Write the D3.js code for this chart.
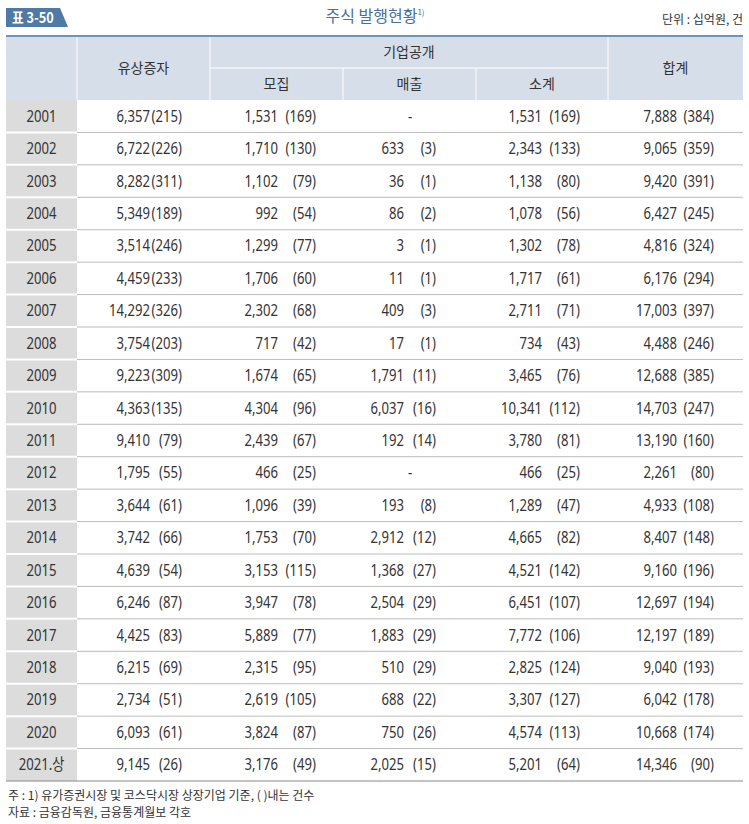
<!DOCTYPE html>
<html><head><meta charset="utf-8">
<script src="https://cdn.jsdelivr.net/npm/d3@7"></script>
<style>body{margin:0;background:#fff}</style>
</head><body>
<svg id="c" width="749" height="824"></svg>
<script>
const years = ["2001","2002","2003","2004","2005","2006","2007","2008","2009","2010","2011","2012","2013","2014","2015","2016","2017","2018","2019","2020","2021.상"];
const rights = [[6357,215],[6722,226],[8282,311],[5349,189],[3514,246],[4459,233],[14292,326],[3754,203],[9223,309],[4363,135],[9410,79],[1795,55],[3644,61],[3742,66],[4639,54],[6246,87],[4425,83],[6215,69],[2734,51],[6093,61],[9145,26]];
const recruit = [[1531,169],[1710,130],[1102,79],[992,54],[1299,77],[1706,60],[2302,68],[717,42],[1674,65],[4304,96],[2439,67],[466,25],[1096,39],[1753,70],[3153,115],[3947,78],[5889,77],[2315,95],[2619,105],[3824,87],[3176,49]];
const sales = [null,[633,3],[36,1],[86,2],[3,1],[11,1],[409,3],[17,1],[1791,11],[6037,16],[192,14],null,[193,8],[2912,12],[1368,27],[2504,29],[1883,29],[510,29],[688,22],[750,26],[2025,15]];
const subtotal = [[1531,169],[2343,133],[1138,80],[1078,56],[1302,78],[1717,61],[2711,71],[734,43],[3465,76],[10341,112],[3780,81],[466,25],[1289,47],[4665,82],[4521,142],[6451,107],[7772,106],[2825,124],[3307,127],[4574,113],[5201,64]];
const total = [[7888,384],[9065,359],[9420,391],[6427,245],[4816,324],[6176,294],[17003,397],[4488,246],[12688,385],[14703,247],[13190,160],[2261,80],[4933,108],[8407,148],[9160,196],[12697,194],[12197,189],[9040,193],[6042,178],[10668,174],[14346,90]];

const svg = d3.select("#c");
const F = "'Noto Sans','Noto Sans CJK KR',sans-serif";
const K = "'Noto Sans CJK KR',sans-serif";
const fmt = d3.format(",");
const y = d3.scaleBand().domain(years).range([100,781]);

// condensed text helper
function ct(x, yy, s, anchor, size){
  return svg.append("text").attr("transform",`translate(${x},${yy}) scale(0.82,1)`)
    .attr("text-anchor",anchor).attr("font-family",F).attr("font-size",size||16).attr("fill","#333").text(s);
}

// badge
svg.append("path").attr("d","M6,8 H60 L68,27 H6 Z").attr("fill","#4f7aa6");
svg.append("text").attr("transform","translate(12,23) scale(0.85,1)").attr("fill","#fff").attr("font-family",K).attr("font-size",15).attr("font-weight","bold").text("표 3-50");
const t = svg.append("text").attr("x",375).attr("y",22).attr("text-anchor","middle").attr("fill","#4a6f9a").attr("font-family",K).attr("font-size",16);
t.append("tspan").text("주식 발행현황");
t.append("tspan").attr("font-size",8).attr("dy",-7).text("1)");
svg.append("text").attr("x",743).attr("y",24).attr("text-anchor","end").attr("fill","#333").attr("font-family",K).attr("font-size",12).text("단위 : 십억원, 건");

// header
svg.append("rect").attr("x",6).attr("y",36).attr("width",737).attr("height",64).attr("fill","#d6dee9");
svg.append("line").attr("x1",6).attr("x2",743).attr("y1",36).attr("y2",36).attr("stroke","#6f93ba").attr("stroke-width",2);
[77,210,608].forEach(x=>svg.append("line").attr("x1",x).attr("x2",x).attr("y1",37).attr("y2",100).attr("stroke","#fff"));
[343,476].forEach(x=>svg.append("line").attr("x1",x).attr("x2",x).attr("y1",68).attr("y2",100).attr("stroke","#fff"));
svg.append("line").attr("x1",210).attr("x2",608).attr("y1",68).attr("y2",68).attr("stroke","#fff");
const hd = (x,yy,s)=>svg.append("text").attr("x",x).attr("y",yy).attr("text-anchor","middle").attr("font-family",K).attr("font-size",14).attr("fill","#333").text(s);
hd(143.5,73,"유상증자"); hd(409,57,"기업공개"); hd(276.5,89,"모집"); hd(409.5,89,"매출"); hd(542,89,"소계"); hd(675.5,73,"합계");

// year column bg
svg.append("rect").attr("x",6).attr("y",100).attr("width",71).attr("height",681).attr("fill","#dcdcdc");
years.forEach((yr,i)=>{
  const yy = y(yr)+y.bandwidth();
  svg.append("line").attr("x1",6).attr("x2",743).attr("y1",yy).attr("y2",yy).attr("stroke", i==years.length-1?"#888":"#bbb");
  if(i<years.length-1) svg.append("line").attr("x1",6).attr("x2",77).attr("y1",yy).attr("y2",yy).attr("stroke","#fff").attr("stroke-width",2);
});

const cols = [
  {d:rights, v:150, p:182},
  {d:recruit, v:278, p:316},
  {d:sales, v:404, p:436, dash:410},
  {d:subtotal, v:542, p:580},
  {d:total, v:677, p:714}
];
years.forEach((yr,i)=>{
  const cy = y(yr)+y.bandwidth()/2+5.5;
  ct(41.5, cy, yr, "middle");
  cols.forEach(c=>{
    const r = c.d[i];
    if(!r){ ct(c.dash, cy, "-", "middle"); return; }
    ct(c.v, cy, fmt(r[0]), "end");
    ct(c.p, cy, "("+r[1]+")", "end");
  });
});

svg.append("text").attr("x",8).attr("y",800).attr("font-family",K).attr("font-size",12).attr("fill","#333").text("주 : 1) 유가증권시장 및 코스닥시장 상장기업 기준, (  )내는 건수");
svg.append("text").attr("x",8).attr("y",817).attr("font-family",K).attr("font-size",12).attr("fill","#333").text("자료 : 금융감독원, 금융통계월보 각호");
</script>
</body></html>
